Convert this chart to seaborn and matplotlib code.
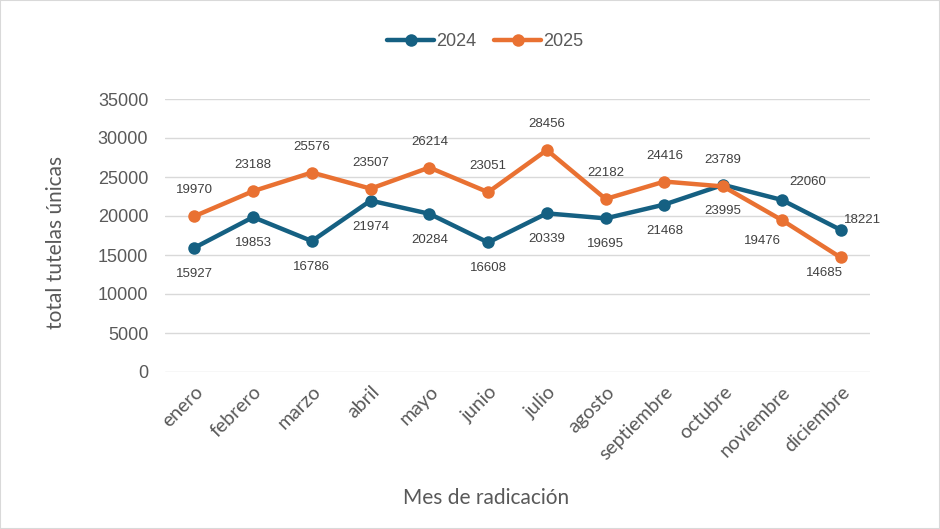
import matplotlib
matplotlib.use("Agg")
import matplotlib.pyplot as plt
import seaborn as sns
import pandas as pd
from matplotlib.patches import Rectangle
from matplotlib.lines import Line2D

meses = ["enero", "febrero", "marzo", "abril", "mayo", "junio", "julio",
         "agosto", "septiembre", "octubre", "noviembre", "diciembre"]
v2024 = [15927, 19853, 16786, 21974, 20284, 16608, 20339, 19695, 21468, 23995, 22060, 18221]
v2025 = [19970, 23188, 25576, 23507, 26214, 23051, 28456, 22182, 24416, 23789, 19476, 14685]
years = ["2024", "2025"]
colors = {"2024": "#156082", "2025": "#E97132"}

rows = []
for i, m in enumerate(meses):
    rows.append({"x": i, "mes": m, "valor": v2024[i], "año": "2024"})
    rows.append({"x": i, "mes": m, "valor": v2025[i], "año": "2025"})
df = pd.DataFrame(rows)

sns.set_theme(style="white")
plt.rcParams["font.family"] = ["Liberation Sans", "DejaVu Sans"]
txt = "#595959"

fig = plt.figure(figsize=(9.4, 5.29), dpi=100)
ax = fig.add_axes([165/940, 1-372/529, 705/940, 273/529])

sns.lineplot(data=df, x="x", y="valor", hue="año", palette=colors, marker="o",
             markersize=9, markeredgewidth=0, linewidth=3.2, ax=ax, legend=False,
             hue_order=years)

ax.set_xlim(-0.5, 11.5)
ax.set_ylim(0, 35000)
ax.set_yticks(range(0, 35001, 5000))
ax.set_yticklabels([str(v) for v in range(0, 35001, 5000)], fontsize=13, color=txt)
ax.set_xticks(range(12))
ax.set_xticklabels(meses, rotation=45, ha="right", rotation_mode="anchor",
                   fontsize=14, color=txt, family=["Lato", "DejaVu Sans"])
ax.tick_params(axis="y", length=0, pad=12)
ax.tick_params(axis="x", length=0, pad=8)
ax.grid(axis="y", color="#D9D9D9", linewidth=1)
ax.set_axisbelow(True)
for s in ax.spines.values():
    s.set_visible(False)

ax.set_xlabel("Mes de radicación", fontsize=15, color=txt,
              family=["Lato", "DejaVu Sans"])
ax.set_ylabel("total tutelas únicas", fontsize=15, color=txt,
              family=["Lato", "DejaVu Sans"])
ax.xaxis.set_label_coords((486-165)/705, -(488-372)/273)
ax.yaxis.set_label_coords(-(165-66)/705, (372-242)/273)

# label offsets in pixels (dx, dy)
off24 = [(0, -26)] * 12
off25 = [(0, 26)] * 12
off24 = list(off24); off25 = list(off25)
off24[10] = (26, 18)
off25[10] = (-19, -21)
off24[11] = (22, 10)
off25[11] = (-16, -16)
for i in range(12):
    ax.annotate(str(v2024[i]), (i, v2024[i]), xytext=off24[i], textcoords="offset pixels",
                ha="center", va="center", fontsize=9.5, color="#404040")
    ax.annotate(str(v2025[i]), (i, v2025[i]), xytext=off25[i], textcoords="offset pixels",
                ha="center", va="center", fontsize=9.5, color="#404040")

handles = [Line2D([0], [0], color=colors[y], linewidth=3.2, marker="o", markersize=9,
                  markeredgewidth=0) for y in years]
fig.legend(handles, years, loc="center", bbox_to_anchor=(485/940, 1-42/529), ncol=2,
           frameon=False, fontsize=13, handlelength=2.6, columnspacing=1.0,
           handletextpad=0.1, labelcolor=txt)

fig.patches.append(Rectangle((0, 0), 1, 1, transform=fig.transFigure, fill=False,
                             edgecolor="#D9D9D9", linewidth=1.5))

fig.savefig("out.png", dpi=100)
